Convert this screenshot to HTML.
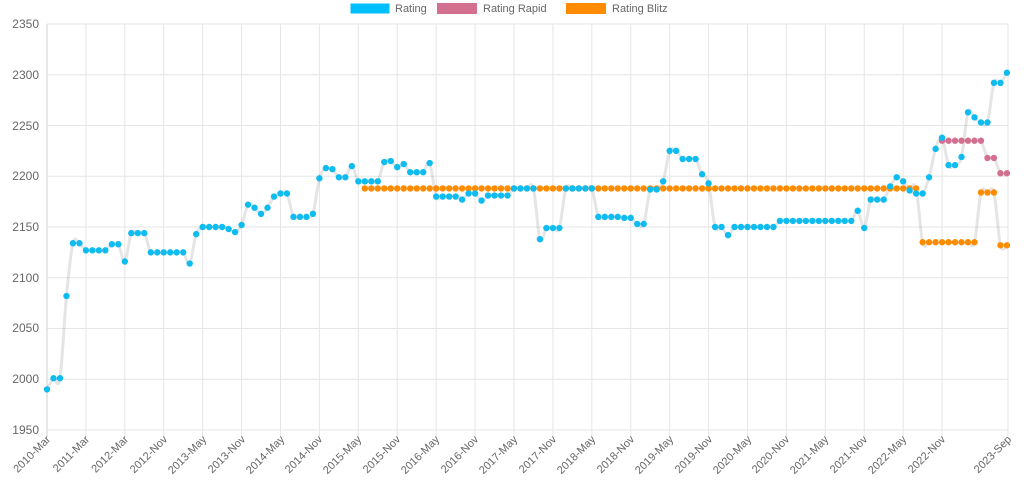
<!DOCTYPE html>
<html><head><meta charset="utf-8"><style>
html,body{margin:0;padding:0;background:#fff;}
svg{display:block;font-family:"Liberation Sans",Arial,sans-serif;}
</style></head><body>
<svg id="c" width="1024" height="486" viewBox="0 0 1024 486">
<g id="grid"></g>
<g font-size="12" fill="#666" text-anchor="end">
<text x="39" y="28">2350</text><text x="39" y="79">2300</text><text x="39" y="130">2250</text><text x="39" y="180">2200</text><text x="39" y="231">2150</text><text x="39" y="282">2100</text><text x="39" y="332">2050</text><text x="39" y="383">2000</text><text x="39" y="434">1950</text>
</g>
<g font-size="11" fill="#666" text-anchor="end">
<text transform="translate(51,440) rotate(-45)">2010-Mar</text>
<text transform="translate(90,440) rotate(-45)">2011-Mar</text>
<text transform="translate(129,440) rotate(-45)">2012-Mar</text>
<text transform="translate(168,440) rotate(-45)">2012-Nov</text>
<text transform="translate(207,440) rotate(-45)">2013-May</text>
<text transform="translate(246,440) rotate(-45)">2013-Nov</text>
<text transform="translate(285,440) rotate(-45)">2014-May</text>
<text transform="translate(323,440) rotate(-45)">2014-Nov</text>
<text transform="translate(362,440) rotate(-45)">2015-May</text>
<text transform="translate(401,440) rotate(-45)">2015-Nov</text>
<text transform="translate(440,440) rotate(-45)">2016-May</text>
<text transform="translate(479,440) rotate(-45)">2016-Nov</text>
<text transform="translate(518,440) rotate(-45)">2017-May</text>
<text transform="translate(557,440) rotate(-45)">2017-Nov</text>
<text transform="translate(596,440) rotate(-45)">2018-May</text>
<text transform="translate(635,440) rotate(-45)">2018-Nov</text>
<text transform="translate(674,440) rotate(-45)">2019-May</text>
<text transform="translate(713,440) rotate(-45)">2019-Nov</text>
<text transform="translate(752,440) rotate(-45)">2020-May</text>
<text transform="translate(790,440) rotate(-45)">2020-Nov</text>
<text transform="translate(829,440) rotate(-45)">2021-May</text>
<text transform="translate(868,440) rotate(-45)">2021-Nov</text>
<text transform="translate(907,440) rotate(-45)">2022-May</text>
<text transform="translate(946,440) rotate(-45)">2022-Nov</text>
<text transform="translate(1012,440) rotate(-45)">2023-Sep</text>
</g>
<g font-size="11" fill="#666">
<rect x="350" y="3" width="40" height="11" fill="#00bfff" stroke="#fff"/><text x="395" y="12">Rating</text>
<rect x="437" y="3" width="40" height="11" fill="#d4708f"/><text x="483" y="12">Rating Rapid</text>
<rect x="566" y="3" width="40" height="11" fill="#ff8c00"/><text x="612" y="12">Rating Blitz</text>
</g>
<g id="lines"></g>
<g id="pts"></g>
</svg>
<script>
var NS="http://www.w3.org/2000/svg";
function el(t,a,p){var e=document.createElementNS(NS,t);for(var k in a)e.setAttribute(k,a[k]);document.getElementById(p).appendChild(e);return e;}
var X0=47,DX=6.486;
function X(i){return X0+i*DX;}
function Y(v){return 24+(2350-v)*1.015;}
for(var v=1950;v<=2350;v+=50){el("line",{x1:X0,x2:1008,y1:Y(v),y2:Y(v),stroke:"#e6e6e6","stroke-width":1},"grid");}
for(var k=0;k<=23;k++){var x=X(k*6);el("line",{x1:x,x2:x,y1:24,y2:436,stroke:k==0?"#d0d0d0":"#e6e6e6","stroke-width":1},"grid");}
el("line",{x1:1008,x2:1008,y1:24,y2:436,stroke:"#e6e6e6"},"grid");
function runs(a){var r=[];for(var i=0;i<a.length;i+=2){for(var j=0;j<a[i+1];j++)r.push(a[i]);}return r;}
var blue=runs([1990,1,2001,2,2082,1,2134,2,2127,4,2133,2,2116,1,2144,3,2125,6,2114,1,2143,1,2150,4,2148,1,2145,1,2152,1,2172,1,2169,1,2163,1,2169,1,2180,1,2183,2,2160,3,2163,1,2198,1,2208,1,2207,1,2199,2,2210,1,2195,4,2214,1,2215,1,2209,1,2212,1,2204,3,2213,1,2180,4,2177,1,2183,2,2176,1,2181,4,2188,4,2138,1,2149,3,2188,5,2160,4,2159,2,2153,2,2187,2,2195,1,2225,2,2217,3,2202,1,2193,1,2150,2,2142,1,2150,7,2156,12,2166,1,2149,1,2177,3,2190,1,2199,1,2195,1,2186,1,2183,2,2199,1,2227,1,2238,1,2211,2,2219,1,2263,1,2258,1,2253,2,2292,2,2302,1]);
var blitz=[];for(var i=0;i<49;i++)blitz.push(null);blitz=blitz.concat(runs([2188,86,2135,9,2184,3,2132,2]));
var rapid=[];for(var i=0;i<138;i++)rapid.push(null);rapid=rapid.concat(runs([2235,7,2218,2,2203,2]));
function path(a){var p=[];for(var i=0;i<a.length;i++)if(a[i]!=null)p.push([X(i),Y(a[i])]);
 var d="M"+p[0][0]+","+p[0][1];
 for(var i=0;i<p.length-1;i++){var p0=p[Math.max(0,i-1)],p1=p[i],p2=p[i+1],p3=p[Math.min(p.length-1,i+2)],t=0.25;
  var c1x=p1[0]+(p2[0]-p0[0])*t/1.5,c1y=p1[1]+(p2[1]-p0[1])*t/1.5,c2x=p2[0]-(p3[0]-p1[0])*t/1.5,c2y=p2[1]-(p3[1]-p1[1])*t/1.5;
  d+=" C"+c1x+","+c1y+" "+c2x+","+c2y+" "+p2[0]+","+p2[1];}
 return d;}
[blitz,rapid,blue].forEach(function(a){el("path",{d:path(a),fill:"none",stroke:"rgba(0,0,0,0.1)","stroke-width":3},"lines");});
function pts(a,c){for(var i=0;i<a.length;i++)if(a[i]!=null)el("circle",{cx:X(i),cy:Y(a[i]),r:3.2,fill:c},"pts");}
pts(blitz,"#ff8c00");pts(rapid,"#d4708f");pts(blue,"#0fbcf0");
</script>
</body></html>
